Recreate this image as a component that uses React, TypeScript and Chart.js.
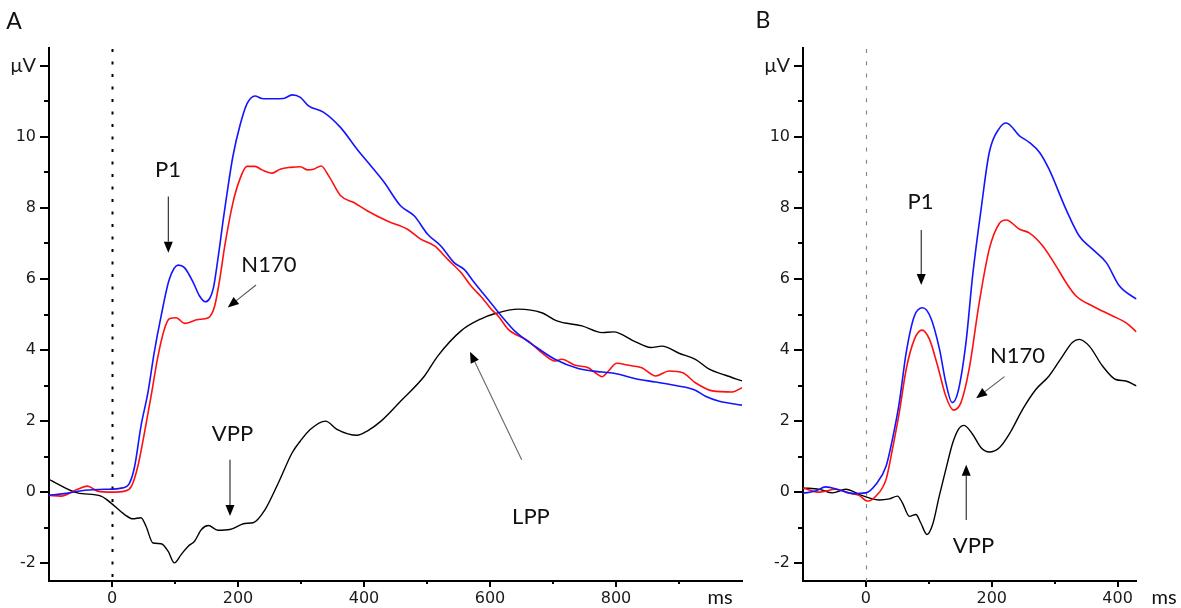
import React, { useEffect, useRef } from 'react';
import { Chart, registerables } from 'chart.js';

Chart.register(...registerables);

// ---------------- Panel A data: [ms, µV] ----------------
const blueA: [number, number][] = [
  [-100, -0.09], [-76, -0.04], [-39, 0.06], [-12, 0.08], [17, 0.12], [28, 0.26], [36, 0.73], [46, 1.86],
  [57, 2.8], [67, 3.93], [78, 4.96], [91, 5.99], [105, 6.39], [115, 6.32], [129, 5.9], [139, 5.52],
  [148, 5.36], [155, 5.45], [161, 5.75], [166, 6.3], [171, 6.93], [176, 7.6], [182, 8.34], [192, 9.46],
  [203, 10.31], [214, 10.92], [227, 11.15], [238, 11.08], [255, 11.07], [272, 11.08], [286, 11.18],
  [299, 11.11], [312, 10.87], [336, 10.69], [363, 10.26], [389, 9.65], [411, 9.18], [432, 8.72],
  [458, 8.06], [480, 7.77], [501, 7.26], [522, 6.93], [543, 6.46], [559, 6.27], [575, 5.9], [597, 5.42],
  [618, 4.96], [639, 4.54], [671, 4.11], [703, 3.74], [740, 3.48], [778, 3.38], [799, 3.34], [831, 3.19],
  [863, 3.1], [895, 3.0], [926, 2.87], [942, 2.7], [964, 2.56], [1000, 2.45],
];

const redA: [number, number][] = [
  [-100, -0.09], [-81, -0.11], [-55, 0.08], [-39, 0.17], [-23, 0.03], [0, 0], [20, 0.03], [31, 0.17],
  [41, 0.73], [51.5, 1.67], [62, 2.7], [73, 3.83], [83, 4.58], [91, 4.88], [102, 4.91], [115, 4.75],
  [137, 4.86], [153, 4.91], [163, 5.24], [171, 5.99], [179, 6.93], [192, 8.15], [203, 8.81], [214, 9.17],
  [227, 9.17], [238, 9.07], [254, 8.98], [267, 9.09], [283, 9.14], [299, 9.16], [310, 9.07], [320, 9.09],
  [332, 9.18], [344, 8.9], [363, 8.34], [384, 8.15], [405, 7.92], [437, 7.63], [469, 7.4], [490, 7.12],
  [512, 6.93], [533, 6.55], [554, 6.18], [570, 5.8], [586, 5.5], [602, 5.15], [613, 4.96], [629, 4.58],
  [661, 4.25], [682, 3.93], [703, 3.69], [714, 3.74], [735, 3.57], [756, 3.5], [767, 3.36], [778, 3.25],
  [788, 3.41], [801, 3.63], [820, 3.57], [841, 3.5], [863, 3.27], [884, 3.41], [906, 3.36], [926, 3.08],
  [953, 2.85], [985, 2.82], [1000, 2.94],
];

const blackA: [number, number][] = [
  [-100, 0.36], [-55, -0.02], [-17.5, -0.11], [-2, -0.3], [20, -0.63], [33, -0.75], [46, -0.72],
  [54, -0.96], [65, -1.43], [78, -1.45], [89, -1.66], [99, -1.99], [110, -1.75], [121, -1.52],
  [131, -1.38], [142, -1.05], [153, -0.94], [168, -1.07], [187, -1.05], [211, -0.88], [224, -0.86],
  [243, -0.49], [264, 0.26], [286, 1.11], [299, 1.44], [315, 1.77], [339, 2.0], [357, 1.77], [389, 1.6],
  [405, 1.72], [427, 2.0], [458, 2.56], [496, 3.27], [517, 3.83], [554, 4.54], [586, 4.88], [607, 5.02],
  [645, 5.15], [682, 5.05], [706, 4.82], [746, 4.68], [778, 4.49], [796, 4.51], [831, 4.23], [855, 4.07],
  [873, 4.11], [900, 3.91], [926, 3.74], [948, 3.46], [974, 3.29], [1000, 3.13],
];

// ---------------- Panel B data: [ms, µV] ----------------
const blueB: [number, number][] = [
  [-100, -0.03], [-80, 0.03], [-64, 0.15], [-42, 0.06], [-21, -0.04], [0, -0.02], [16, 0.22], [32, 0.73],
  [42, 1.48], [53, 2.52], [64, 3.93], [77, 4.96], [90, 5.19], [103, 4.91], [117, 4.02], [127, 3.08],
  [137, 2.52], [146, 2.8], [159, 4.21], [169.5, 6.08], [183, 7.96], [196, 9.56], [212, 10.24],
  [223, 10.39], [244, 10.03], [260, 9.84], [276, 9.56], [291, 9.09], [318, 7.96], [339, 7.21],
  [360, 6.84], [382, 6.46], [403, 5.8], [430, 5.43],
];

const redB: [number, number][] = [
  [-100, 0.12], [-74, 0.0], [-48, 0.08], [-27, -0.02], [-11, -0.09], [3, -0.25], [16, -0.11], [32, 0.36],
  [42, 1.2], [53, 2.24], [64, 3.46], [77, 4.3], [89, 4.56], [101, 4.3], [114, 3.55], [127, 2.7],
  [139, 2.31], [151, 2.52], [164, 3.46], [180, 5.33], [196, 6.84], [212, 7.56], [223, 7.66], [244, 7.4],
  [260, 7.29], [281, 6.93], [302, 6.37], [318, 5.9], [334, 5.52], [360, 5.24], [392, 4.96], [413, 4.77],
  [430, 4.51],
];

const blackB: [number, number][] = [
  [-100, 0.12], [-74, 0.08], [-53, -0.02], [-32, 0.08], [-11, -0.06], [5, -0.16], [21, -0.22],
  [37, -0.19], [50, -0.11], [58, -0.3], [69, -0.68], [79.5, -0.63], [87, -0.86], [97, -1.19],
  [106, -0.91], [116.5, -0.11], [127, 0.64], [138, 1.39], [147, 1.77], [156, 1.88], [169.5, 1.63],
  [183, 1.25], [196, 1.13], [212, 1.25], [230, 1.7], [249, 2.33], [270, 2.89], [291, 3.27],
  [312.5, 3.83], [328, 4.21], [339, 4.3], [355, 4.11], [376, 3.55], [397, 3.17], [413, 3.13], [430, 2.99],
];

// ---------------- Axis ticks and labels ----------------
const yTickValues = [-2, -1, 0, 1, 2, 3, 4, 5, 6, 7, 8, 9, 10, 11, 12];
const yLabelValues = [-2, 0, 2, 4, 6, 8, 10];
const yUnitLabel = 'μV';
const xUnitLabel = 'ms';
const xTicksA = [0, 100, 200, 300, 400, 500, 600, 700, 800, 900];
const xLabelsA = [0, 200, 400, 600, 800];
const xTicksB = [0, 100, 200, 300, 400];
const xLabelsB = [0, 200, 400];

type Annot = { text: string; tx: number; ty: number; from: [number, number]; to: [number, number]; lineColor: string };

const annotsA: Annot[] = [
  { text: 'P1', tx: 89, ty: 9.07, from: [89.4, 8.32], to: [89.4, 6.74], lineColor: '#222' },
  { text: 'N170', tx: 249, ty: 6.39, from: [228.6, 5.83], to: [183.7, 5.2], lineColor: '#555' },
  { text: 'VPP', tx: 191.3, ty: 1.64, from: [187.3, 0.91], to: [187.3, -0.67], lineColor: '#222' },
  { text: 'LPP', tx: 665, ty: -0.71, from: [650.3, 0.91], to: [568.3, 3.95], lineColor: '#666' },
];

const annotsB: Annot[] = [
  { text: 'P1', tx: 86.8, ty: 8.17, from: [87.9, 7.38], to: [87.9, 5.83], lineColor: '#222' },
  { text: 'N170', tx: 240.8, ty: 3.83, from: [220.2, 3.25], to: [175.2, 2.64], lineColor: '#555' },
  { text: 'VPP', tx: 171, ty: -1.52, from: [159.4, -0.78], to: [159.4, 0.77], lineColor: '#222' },
];

type Panel = {
  title: string;
  titleX: number;
  titleY: number;
  xMin: number;
  xMax: number;
  xTicks: number[];
  xLabels: number[];
  padRight: number;
  msOffset: number;
  zeroColor: string;
  zeroWidth: number;
  zeroDash: number[];
  annots: Annot[];
  series: { points: [number, number][]; color: string; width: number }[];
};

const panelA: Panel = {
  title: 'A', titleX: 14, titleY: 22,
  xMin: -100, xMax: 1000, xTicks: xTicksA, xLabels: xLabelsA,
  padRight: 18, msOffset: -22,
  zeroColor: '#000', zeroWidth: 2, zeroDash: [3, 9.5],
  annots: annotsA,
  series: [
    { points: blueA, color: '#1414ff', width: 1.6 },
    { points: redA, color: '#ff1010', width: 1.6 },
    { points: blackA, color: '#000000', width: 1.4 },
  ],
};

const panelB: Panel = {
  title: 'B', titleX: 9, titleY: 21,
  xMin: -100, xMax: 430, xTicks: xTicksB, xLabels: xLabelsB,
  padRight: 44.5, msOffset: 27.5,
  zeroColor: '#888', zeroWidth: 1.2, zeroDash: [4, 8.3],
  annots: annotsB,
  series: [
    { points: blueB, color: '#1414ff', width: 1.6 },
    { points: redB, color: '#ff1010', width: 1.6 },
    { points: blackB, color: '#000000', width: 1.4 },
  ],
};

const ANNOT_FONT = '22px Lato';
const UNIT_FONT = '20px Lato';
const TITLE_FONT = '23px Lato';

function makeDecor(p: Panel) {
  return {
    id: 'decor',
    beforeDatasetsDraw(chart: any) {
      const { ctx, chartArea, scales } = chart;
      const x0 = Math.round(scales.x.getPixelForValue(0)) + 0.5;
      ctx.save();
      ctx.strokeStyle = p.zeroColor;
      ctx.lineWidth = p.zeroWidth;
      ctx.setLineDash(p.zeroDash);
      ctx.beginPath();
      ctx.moveTo(x0, chartArea.top + 1);
      ctx.lineTo(x0, chartArea.bottom);
      ctx.stroke();
      ctx.restore();
    },
    afterDraw(chart: any) {
      const { ctx, chartArea, scales } = chart;
      const xs = scales.x;
      const ys = scales.y;
      ctx.save();
      // tick marks
      ctx.strokeStyle = '#000';
      ctx.lineWidth = 2;
      ctx.beginPath();
      for (const v of yTickValues) {
        const py = Math.round(ys.getPixelForValue(v));
        const len = v % 2 === 0 ? 9 : 5;
        ctx.moveTo(chartArea.left - len, py);
        ctx.lineTo(chartArea.left, py);
      }
      for (const v of p.xTicks) {
        const px = Math.round(xs.getPixelForValue(v));
        const len = v % 200 === 0 ? 6 : 3;
        ctx.moveTo(px, chartArea.bottom);
        ctx.lineTo(px, chartArea.bottom + len);
      }
      ctx.stroke();

      // unit label on x axis
      ctx.fillStyle = '#111';
      ctx.font = UNIT_FONT;
      ctx.textAlign = 'center';
      ctx.textBaseline = 'middle';
      ctx.fillText(xUnitLabel, chartArea.right + p.msOffset, 598);

      // panel title
      ctx.font = TITLE_FONT;
      ctx.fillText(p.title, p.titleX, p.titleY);

      // annotations
      for (const a of p.annots) {
        const tx = xs.getPixelForValue(a.tx);
        const ty = ys.getPixelForValue(a.ty);
        ctx.font = ANNOT_FONT;
        ctx.fillStyle = '#111';
        ctx.fillText(a.text, tx, ty);
        const x1 = xs.getPixelForValue(a.from[0]);
        const y1 = ys.getPixelForValue(a.from[1]);
        const x2 = xs.getPixelForValue(a.to[0]);
        const y2 = ys.getPixelForValue(a.to[1]);
        const ang = Math.atan2(y2 - y1, x2 - x1);
        const headLen = 11;
        const headW = 4.5;
        const bx = x2 - headLen * Math.cos(ang);
        const by = y2 - headLen * Math.sin(ang);
        ctx.strokeStyle = a.lineColor;
        ctx.lineWidth = 1.1;
        ctx.beginPath();
        ctx.moveTo(x1, y1);
        ctx.lineTo(bx, by);
        ctx.stroke();
        ctx.fillStyle = '#000';
        ctx.beginPath();
        ctx.moveTo(x2, y2);
        ctx.lineTo(bx + headW * Math.sin(ang), by - headW * Math.cos(ang));
        ctx.lineTo(bx - headW * Math.sin(ang), by + headW * Math.cos(ang));
        ctx.closePath();
        ctx.fill();
      }
      ctx.restore();
    },
  };
}

function buildConfig(p: Panel): any {
  return {
    type: 'line',
    data: {
      datasets: p.series.map((s) => ({
        data: s.points.map(([x, y]) => ({ x, y })),
        borderColor: s.color,
        borderWidth: s.width,
        pointRadius: 0,
        pointHoverRadius: 0,
        cubicInterpolationMode: 'monotone',
        fill: false,
      })),
    },
    options: {
      responsive: false,
      animation: false,
      devicePixelRatio: 1,
      events: [],
      layout: { padding: { left: 0, top: 48, right: p.padRight, bottom: 0 } },
      plugins: { legend: { display: false }, tooltip: { enabled: false } },
      scales: {
        x: {
          type: 'linear',
          min: p.xMin,
          max: p.xMax,
          afterBuildTicks: (s: any) => {
            s.ticks = p.xTicks.map((v) => ({ value: v }));
          },
          afterFit: (s: any) => {
            s.height = 27;
          },
          grid: { display: true, drawOnChartArea: false, drawTicks: true, tickLength: 6, tickColor: 'rgba(0,0,0,0)' },
          border: { display: true, color: '#000', width: 2 },
          ticks: {
            autoSkip: false,
            maxRotation: 0,
            padding: 2,
            color: '#1a1a1a',
            font: { family: 'DejaVu Sans', size: 16 },
            callback: (v: number) => (p.xLabels.includes(v) ? String(v) : ''),
          },
        },
        y: {
          type: 'linear',
          min: -2.5,
          max: 12.5,
          afterBuildTicks: (s: any) => {
            s.ticks = yTickValues.map((v) => ({ value: v }));
          },
          afterFit: (s: any) => {
            s.width = 49;
          },
          grid: { display: true, drawOnChartArea: false, drawTicks: true, tickLength: 9, tickColor: 'rgba(0,0,0,0)' },
          border: { display: true, color: '#000', width: 2 },
          ticks: {
            autoSkip: false,
            padding: 4,
            color: '#1a1a1a',
            font: (c: any) =>
              c.tick && c.tick.value === 12 ? { family: 'Lato', size: 20 } : { family: 'DejaVu Sans', size: 16 },
            callback: (v: number) => (v === 12 ? yUnitLabel : yLabelValues.includes(v) ? String(v) : ''),
          },
        },
      },
    },
    plugins: [makeDecor(p)],
  };
}

export default function App() {
  const refA = useRef<HTMLCanvasElement>(null);
  const refB = useRef<HTMLCanvasElement>(null);

  useEffect(() => {
    const cA = new Chart(refA.current as HTMLCanvasElement, buildConfig(panelA));
    const cB = new Chart(refB.current as HTMLCanvasElement, buildConfig(panelB));
    return () => {
      cA.destroy();
      cB.destroy();
    };
  }, []);

  return (
    <div style={{ position: 'fixed', left: 0, top: 0, width: 1181, height: 608, background: '#fff', overflow: 'hidden' }}>
      <canvas ref={refA} width={760} height={608} style={{ position: 'absolute', left: 0, top: 0, width: 760, height: 608 }} />
      <canvas ref={refB} width={427} height={608} style={{ position: 'absolute', left: 754, top: 0, width: 427, height: 608 }} />
    </div>
  );
}
